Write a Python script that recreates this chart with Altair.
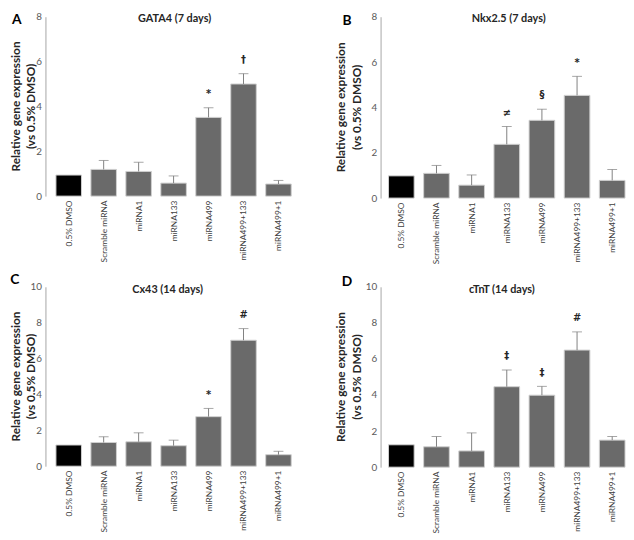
import altair as alt
import pandas as pd

categories = ["0.5% DMSO", "Scramble miRNA", "miRNA1", "miRNA133",
              "miRNA499", "miRNA499+133", "miRNA499+1"]

gata4_mean = [0.94, 1.19, 1.10, 0.58, 3.51, 5.00, 0.54]
gata4_err = [0.0, 0.40, 0.41, 0.32, 0.43, 0.46, 0.16]
gata4_sig = ["", "", "", "", "*", "†", ""]

nkx_mean = [0.98, 1.09, 0.57, 2.37, 3.43, 4.53, 0.78]
nkx_err = [0.0, 0.35, 0.45, 0.79, 0.49, 0.84, 0.48]
nkx_sig = ["", "", "", "≠", "§", "*", ""]

cx43_mean = [1.18, 1.32, 1.36, 1.14, 2.76, 7.02, 0.64]
cx43_err = [0.0, 0.32, 0.50, 0.31, 0.46, 0.65, 0.19]
cx43_sig = ["", "", "", "", "*", "#", ""]

ctnt_mean = [1.24, 1.13, 0.90, 4.46, 3.99, 6.49, 1.50]
ctnt_err = [0.0, 0.57, 1.00, 0.93, 0.49, 1.01, 0.20]
ctnt_sig = ["", "", "", "‡", "‡", "#", ""]

ytitle_lines = ["Relative gene expression", "(vs 0.5% DMSO)"]

FONT = "Lato"
SYM_FONT = "DejaVu Sans"
BAR = "#6a6a6a"
ERR = "#808080"


def panel(letter, title, mean, err, sig, ymax, width, height, rng,
          pad_outer, align, letter_x, letter_y, title_x, title_y, yt_x, yt_gap):
    df = pd.DataFrame({
        "cat": categories,
        "mean": mean,
        "top": [m + e for m, e in zip(mean, err)],
        "sig": sig,
        "err": err,
    })
    x = alt.X("cat:N", sort=categories, title=None,
              scale=alt.Scale(paddingInner=0.27, paddingOuter=pad_outer, align=align),
              axis=alt.Axis(labelAngle=-90, domain=False, ticks=False,
                            labelFont=FONT, labelFontSize=8.5, labelColor="#404040",
                            labelPadding=4))
    yscale = alt.Scale(domain=[0, ymax], range=rng, nice=False, zero=True)
    yaxis = alt.Axis(values=list(range(0, ymax + 1, 2)), grid=False, ticks=False,
                     domainColor="#a6a6a6", labelFont=FONT, labelFontSize=10,
                     labelColor="#595959", labelPadding=4, title=None)
    base = alt.Chart(df)
    bars = base.mark_bar(stroke="#cfcfcf", strokeWidth=1).encode(
        x=x,
        y=alt.Y("mean:Q", scale=yscale, axis=yaxis),
        color=alt.condition(alt.datum.cat == "0.5% DMSO",
                            alt.value("#000000"), alt.value(BAR)),
    )
    eb = base.transform_filter("datum.err > 0")
    rules = eb.mark_rule(color=ERR, strokeWidth=1).encode(
        x=x, y=alt.Y("mean:Q", scale=yscale, axis=yaxis), y2="top:Q")
    caps = eb.mark_tick(color=ERR, size=10, thickness=1, orient="horizontal").encode(
        x=x, y=alt.Y("top:Q", scale=yscale, axis=yaxis))
    sigs = base.transform_filter("datum.sig != ''").mark_text(
        dy=-14, font=SYM_FONT, fontSize=10, fontWeight="bold", color="#262626",
        baseline="middle").encode(
        x=x, y=alt.Y("top:Q", scale=yscale, axis=yaxis), text="sig:N")
    ttl = alt.Chart(pd.DataFrame({"t": [title]})).mark_text(
        font=FONT, fontSize=11, fontWeight="bold", color="#262626",
        baseline="middle", align="center").encode(
        x=alt.value(title_x), y=alt.value(title_y), text="t:N")
    let = alt.Chart(pd.DataFrame({"t": [letter]})).mark_text(
        font=FONT, fontSize=14, fontWeight="bold", color="#000000",
        baseline="middle", align="center").encode(
        x=alt.value(letter_x), y=alt.value(letter_y), text="t:N")
    ymid = (rng[0] + rng[1]) / 2
    yt1 = alt.Chart(pd.DataFrame({"t": [ytitle_lines[0]]})).mark_text(
        font=FONT, fontSize=12, fontWeight="bold", color="#262626",
        baseline="middle", align="center", angle=270).encode(
        x=alt.value(yt_x), y=alt.value(ymid), text="t:N")
    yt2 = alt.Chart(pd.DataFrame({"t": [ytitle_lines[1]]})).mark_text(
        font=FONT, fontSize=12, fontWeight="bold", color="#262626",
        baseline="middle", align="center", angle=270).encode(
        x=alt.value(yt_x + yt_gap), y=alt.value(ymid), text="t:N")
    return alt.layer(bars, rules, caps, sigs, ttl, let, yt1, yt2).properties(
        width=width, height=height)


pA = panel("A", "GATA4 (7 days)", gata4_mean, gata4_err, gata4_sig, 8,
           260, 186, [186, 4], 0.3, 0.5, -29, 7, 131, 6, -30, 15)
pB = panel("B", "Nkx2.5 (7 days)", nkx_mean, nkx_err, nkx_sig, 8,
           249, 188, [188, 4], 0.127, 0.89, -34, 8, 130, 6, -40, 16)
pC = panel("C", "Cx43 (14 days)", cx43_mean, cx43_err, cx43_sig, 10,
           260, 196, [196, 14], 0.3, 0.5, -31, 7, 124, 17, -30, 15)
pD = panel("D", "cTnT (14 days)", ctnt_mean, ctnt_err, ctnt_sig, 10,
           249, 197, [197, 14], 0.127, 0.89, -34, 9, 123, 17, -40, 16)

chart = alt.vconcat(
    alt.hconcat(pA, pB, spacing=34),
    alt.hconcat(pC, pD, spacing=34),
    spacing=9,
).properties(padding={"left": 2, "top": 0, "right": 0, "bottom": 0}).configure_view(stroke=None)

chart.save("out.html", embed_options={"renderer": "svg", "actions": False})
